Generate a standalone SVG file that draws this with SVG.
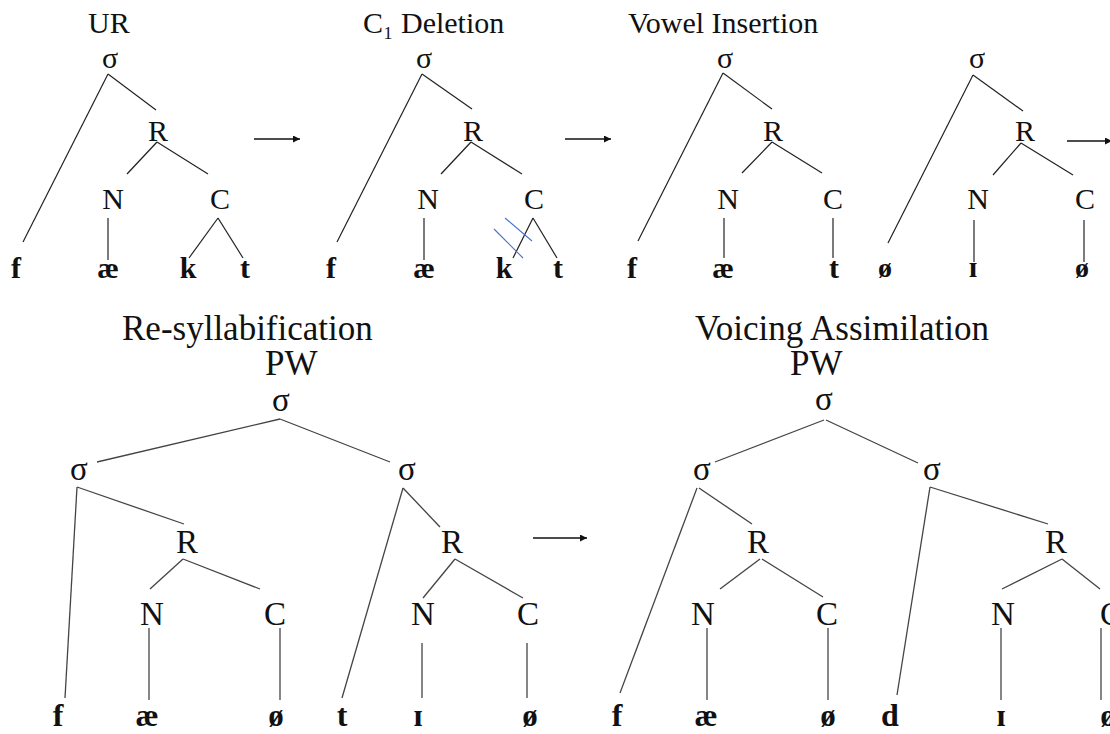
<svg xmlns="http://www.w3.org/2000/svg" width="1110" height="734" viewBox="0 0 1110 734">
<defs>
<style>
text{font-family:"Liberation Serif","DejaVu Serif",serif;fill:#111}
.t1{font-size:30px}
.t2{font-size:35px}
.n1{font-size:30px;text-anchor:middle}
.n2{font-size:33px;text-anchor:middle}
.l1{font-size:30px;font-weight:bold;text-anchor:middle}
.l2{font-size:32px;font-weight:bold;text-anchor:middle}
.s1{font-size:28px}
.s2{font-size:31px}
.e1{stroke:#222;stroke-width:1.2;fill:none}
.e2{stroke:#444;stroke-width:1.3;fill:none}
.ar{stroke:#111;stroke-width:1.3;fill:none}
.cut{stroke:#4a6fd0;stroke-width:1.1}
</style>
<marker id="ah" viewBox="0 0 10 10" refX="10" refY="5" markerWidth="7" markerHeight="7" markerUnits="userSpaceOnUse" orient="auto">
<path d="M0,0 L10,5 L0,10 z" fill="#111"/>
</marker>
</defs>
<rect width="1110" height="734" fill="#fff"/>

<g id="titles">
<text class="t1" x="88" y="33">UR</text>
<text class="t1" x="363" y="33">C₁ Deletion</text>
<text class="t1" x="628" y="33">Vowel Insertion</text>
<text class="t2" x="122" y="340">Re-syllabification</text>
<text class="t2" x="265" y="375">PW</text>
<text class="t2" x="695" y="340">Voicing Assimilation</text>
<text class="t2" x="790" y="375">PW</text>
</g>

<g id="connectors">
<!-- tree 1 -->
<line class="e1" x1="108" y1="74" x2="23" y2="242"/>
<line class="e1" x1="108" y1="74" x2="156" y2="110"/>
<line class="e1" x1="157" y1="142" x2="127" y2="174"/>
<line class="e1" x1="157" y1="142" x2="208" y2="174"/>
<line class="e1" x1="108" y1="218" x2="108" y2="260"/>
<line class="e1" x1="218" y1="218" x2="189" y2="258"/>
<line class="e1" x1="218" y1="218" x2="243" y2="258"/>
<!-- tree 2 -->
<line class="e1" x1="422" y1="74" x2="337" y2="242"/>
<line class="e1" x1="422" y1="74" x2="472" y2="109"/>
<line class="e1" x1="471" y1="142" x2="441" y2="174"/>
<line class="e1" x1="471" y1="142" x2="522" y2="174"/>
<line class="e1" x1="424" y1="218" x2="424" y2="260"/>
<line class="e1" x1="533" y1="218" x2="513" y2="258"/>
<line class="e1" x1="533" y1="218" x2="557" y2="258"/>
<line class="cut" x1="494" y1="229" x2="523" y2="258"/>
<line class="cut" x1="505" y1="218" x2="532" y2="241"/>
<!-- tree 3 -->
<line class="e1" x1="723" y1="73" x2="638" y2="241"/>
<line class="e1" x1="723" y1="73" x2="772" y2="109"/>
<line class="e1" x1="772" y1="142" x2="742" y2="173"/>
<line class="e1" x1="772" y1="142" x2="822" y2="173"/>
<line class="e1" x1="724" y1="218" x2="724" y2="258"/>
<line class="e1" x1="833" y1="218" x2="833" y2="258"/>
<!-- tree 4 -->
<line class="e1" x1="973" y1="75" x2="888" y2="243"/>
<line class="e1" x1="973" y1="75" x2="1023" y2="111"/>
<line class="e1" x1="1021" y1="143" x2="993" y2="175"/>
<line class="e1" x1="1021" y1="143" x2="1073" y2="175"/>
<line class="e1" x1="974" y1="220" x2="974" y2="262"/>
<line class="e1" x1="1084" y1="220" x2="1084" y2="262"/>
<!-- top arrows -->
<line class="ar" x1="254" y1="139" x2="300" y2="139" marker-end="url(#ah)"/>
<line class="ar" x1="565" y1="139" x2="611" y2="139" marker-end="url(#ah)"/>
<line class="ar" x1="1067" y1="141" x2="1112" y2="141" marker-end="url(#ah)"/>

<!-- bottom tree A -->
<line class="e2" x1="280" y1="419" x2="97" y2="462"/>
<line class="e2" x1="280" y1="419" x2="390" y2="462"/>
<line class="e2" x1="77" y1="487" x2="65" y2="698"/>
<line class="e2" x1="77" y1="487" x2="184" y2="524"/>
<line class="e2" x1="183" y1="559" x2="150" y2="589"/>
<line class="e2" x1="183" y1="559" x2="260" y2="589"/>
<line class="e2" x1="149" y1="628" x2="149" y2="700"/>
<line class="e2" x1="280" y1="628" x2="280" y2="700"/>
<line class="e2" x1="403" y1="488" x2="342" y2="698"/>
<line class="e2" x1="403" y1="488" x2="440" y2="527"/>
<line class="e2" x1="455" y1="559" x2="423" y2="598"/>
<line class="e2" x1="455" y1="559" x2="523" y2="598"/>
<line class="e2" x1="422" y1="643" x2="422" y2="698"/>
<line class="e2" x1="527" y1="643" x2="527" y2="698"/>
<line class="ar" x1="533" y1="538" x2="587" y2="538" marker-end="url(#ah)"/>
<!-- bottom tree B -->
<line class="e2" x1="824" y1="420" x2="715" y2="462"/>
<line class="e2" x1="826" y1="420" x2="918" y2="463"/>
<line class="e2" x1="697" y1="488" x2="620" y2="693"/>
<line class="e2" x1="699" y1="488" x2="752" y2="524"/>
<line class="e2" x1="760" y1="559" x2="720" y2="589"/>
<line class="e2" x1="762" y1="559" x2="823" y2="597"/>
<line class="e2" x1="707" y1="628" x2="707" y2="700"/>
<line class="e2" x1="828" y1="628" x2="828" y2="700"/>
<line class="e2" x1="930" y1="487" x2="897" y2="695"/>
<line class="e2" x1="930" y1="487" x2="1048" y2="524"/>
<line class="e2" x1="1062" y1="559" x2="1002" y2="589"/>
<line class="e2" x1="1062" y1="559" x2="1100" y2="589"/>
<line class="e2" x1="1001" y1="628" x2="1001" y2="700"/>
<line class="e2" x1="1101" y1="628" x2="1101" y2="700"/>
</g>

<g id="tree1">
<text class="n1" x="110" y="68">σ</text>
<text class="n1" x="158" y="141">R</text>
<text class="n1" x="113" y="209">N</text>
<text class="n1" x="220" y="209">C</text>
<text class="l1" x="16" y="278">f</text>
<text class="l1" x="108" y="278">æ</text>
<text class="l1" x="188" y="278">k</text>
<text class="l1" x="245" y="278">t</text>
</g>
<g id="tree2">
<text class="n1" x="424" y="68">σ</text>
<text class="n1" x="473" y="141">R</text>
<text class="n1" x="428" y="209">N</text>
<text class="n1" x="534" y="209">C</text>
<text class="l1" x="331" y="278">f</text>
<text class="l1" x="424" y="278">æ</text>
<text class="l1" x="504" y="278">k</text>
<text class="l1" x="558" y="278">t</text>
</g>
<g id="tree3">
<text class="n1" x="725" y="68">σ</text>
<text class="n1" x="773" y="141">R</text>
<text class="n1" x="728" y="209">N</text>
<text class="n1" x="833" y="209">C</text>
<text class="l1" x="632" y="278">f</text>
<text class="l1" x="723" y="278">æ</text>
<text class="l1" x="834" y="278">t</text>
</g>
<g id="tree4">
<text class="n1" x="977" y="68">σ</text>
<text class="n1" x="1025" y="141">R</text>
<text class="n1" x="978" y="209">N</text>
<text class="n1" x="1085" y="209">C</text>
<text class="l1 s1" x="885" y="277">ø</text>
<text class="l1" x="973" y="277">ɪ</text>
<text class="l1 s1" x="1082" y="277">ø</text>
</g>

<g id="tree5">
<text class="n2" x="281" y="411">σ</text>
<text class="n2" x="79" y="480">σ</text>
<text class="n2" x="407" y="480">σ</text>
<text class="n2" x="187" y="553">R</text>
<text class="n2" x="152" y="625">N</text>
<text class="n2" x="275" y="625">C</text>
<text class="n2" x="452" y="553">R</text>
<text class="n2" x="423" y="625">N</text>
<text class="n2" x="528" y="625">C</text>
<text class="l2" x="58" y="726">f</text>
<text class="l2" x="147" y="726">æ</text>
<text class="l2 s2" x="276" y="726">ø</text>
<text class="l2" x="342" y="726">t</text>
<text class="l2" x="418" y="726">ɪ</text>
<text class="l2 s2" x="530" y="726">ø</text>
</g>
<g id="tree6">
<text class="n2" x="824" y="410">σ</text>
<text class="n2" x="702" y="480">σ</text>
<text class="n2" x="932" y="480">σ</text>
<text class="n2" x="758" y="553">R</text>
<text class="n2" x="703" y="625">N</text>
<text class="n2" x="827" y="625">C</text>
<text class="n2" x="1056" y="553">R</text>
<text class="n2" x="1003" y="625">N</text>
<text class="n2" x="1111" y="625">C</text>
<text class="l2" x="617" y="726">f</text>
<text class="l2" x="706" y="726">æ</text>
<text class="l2 s2" x="828" y="726">ø</text>
<text class="l2" x="890" y="726">d</text>
<text class="l2" x="1001" y="726">ɪ</text>
<text class="l2 s2" x="1108" y="726">ø</text>
</g>
</svg>
